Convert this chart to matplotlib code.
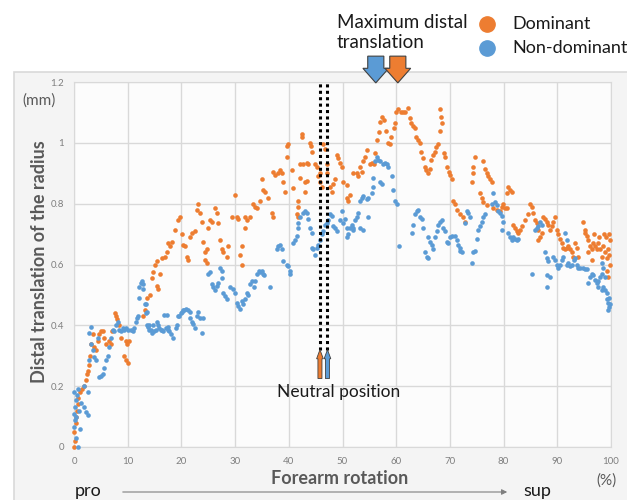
import matplotlib.pyplot as plt
from matplotlib.lines import Line2D
from matplotlib.patches import Rectangle, FancyArrow

plt.rcParams['font.family'] = ['Lato', 'DejaVu Sans']

# Dominant side: (forearm rotation %, distal translation mm)
dom_points = [
    (0.0, 0.00), (0.1, 0.02), (0.0, 0.05), (0.3, 0.08), (0.4, 0.10), (0.5, 0.12), (0.7, 0.14), (0.8, 0.16),
    (1.2, 0.18), (1.5, 0.19), (1.8, 0.20), (2.2, 0.22), (2.5, 0.24), (2.6, 0.25), (2.8, 0.27), (3.0, 0.30),
    (3.2, 0.34), (3.5, 0.37), (3.8, 0.33), (4.1, 0.32), (4.4, 0.35), (4.6, 0.37), (5.0, 0.38), (5.4, 0.38),
    (5.6, 0.36), (6.0, 0.34), (6.5, 0.35), (6.9, 0.34), (7.1, 0.38), (7.6, 0.44), (7.9, 0.43), (8.1, 0.42),
    (8.4, 0.40), (8.8, 0.36), (9.6, 0.35), (9.9, 0.34), (10.2, 0.35), (9.3, 0.30), (9.6, 0.285), (10.0, 0.275),
    (12.9, 0.43), (13.2, 0.45), (13.6, 0.49), (14.2, 0.50), (14.6, 0.555), (14.8, 0.575), (15.1, 0.60), (15.5, 0.61),
    (15.5, 0.53), (15.7, 0.52), (16.0, 0.57), (16.4, 0.62), (17.0, 0.625), (17.3, 0.64), (17.5, 0.67), (17.9, 0.66),
    (18.3, 0.675), (18.8, 0.715), (19.4, 0.745), (19.8, 0.755), (20.1, 0.70), (20.3, 0.665), (20.7, 0.66), (21.0, 0.625),
    (21.2, 0.615), (21.6, 0.69), (21.9, 0.705), (22.5, 0.71), (22.9, 0.78), (23.1, 0.80), (23.5, 0.77), (23.8, 0.74),
    (24.0, 0.675), (24.4, 0.64), (24.7, 0.65), (24.4, 0.615), (24.7, 0.605), (24.9, 0.72), (25.3, 0.745), (25.7, 0.74),
    (26.3, 0.785), (26.6, 0.77), (26.8, 0.735), (27.2, 0.68), (27.6, 0.65), (27.8, 0.64), (28.5, 0.625), (28.7, 0.66),
    (29.4, 0.755), (30.0, 0.83), (30.3, 0.755), (30.5, 0.75), (30.9, 0.63), (31.3, 0.60), (31.3, 0.66),
    (31.8, 0.755), (32.2, 0.745), (31.8, 0.72), (32.8, 0.755), (33.3, 0.80), (33.7, 0.79), (34.1, 0.785), (34.6, 0.81),
    (35.0, 0.88), (35.2, 0.845), (35.6, 0.84), (36.1, 0.82), (36.9, 0.77), (37.0, 0.755), (37.0, 0.905), (37.4, 0.895),
    (38.0, 0.90), (38.4, 0.91), (38.7, 0.90), (38.9, 0.87), (39.3, 0.84), (39.7, 0.955), (39.7, 0.99), (39.9, 0.995),
    (40.6, 0.91), (40.8, 0.85), (41.7, 0.81), (41.7, 0.79), (41.5, 0.765), (41.7, 0.755), (42.1, 0.885), (42.5, 1.03),
    (42.5, 1.02), (42.1, 0.93), (42.7, 0.93), (43.4, 0.935), (43.6, 0.93), (43.0, 0.87), (43.4, 0.875), (43.0, 0.84),
    (43.9, 1.00), (44.1, 0.99), (44.3, 0.97), (44.9, 0.93), (45.2, 0.92), (45.4, 0.89), (45.8, 0.87), (45.8, 0.90),
    (46.2, 0.855), (46.4, 0.995), (46.7, 0.98), (47.1, 0.93), (47.1, 0.90), (47.7, 0.855), (48.0, 0.84), (48.2, 0.865),
    (48.6, 0.88), (48.9, 0.96), (49.2, 0.95), (49.5, 0.935), (49.9, 0.92), (50.1, 0.87), (50.8, 0.86), (50.8, 0.82),
    (51.0, 0.81), (51.4, 0.83), (52.0, 0.90), (52.7, 0.90), (52.9, 0.89), (53.3, 0.92), (53.6, 0.905), (53.8, 0.94),
    (54.2, 0.955), (54.6, 0.975), (55.1, 0.93), (55.5, 0.935), (55.9, 0.93), (56.1, 0.965), (56.5, 1.01), (56.8, 1.035),
    (57.0, 1.07), (57.4, 1.085), (57.7, 1.075), (58.1, 1.04), (58.5, 1.00), (58.8, 0.995), (59.1, 1.02), (59.5, 1.05),
    (59.8, 1.065), (60.0, 1.10), (60.4, 1.11), (60.9, 1.10), (61.3, 1.10), (61.6, 1.10), (62.2, 1.115), (62.6, 1.08),
    (62.8, 1.065), (63.1, 1.055), (63.5, 1.05), (63.7, 1.02), (64.1, 1.01), (64.4, 1.00), (64.6, 0.97), (65.0, 0.95),
    (65.4, 0.92), (65.6, 0.91), (65.9, 0.90), (66.3, 0.915), (66.5, 0.945), (66.9, 0.96), (67.2, 0.97), (67.4, 0.985),
    (67.8, 0.995), (68.2, 1.11), (68.4, 1.085), (68.5, 1.065), (68.2, 1.04), (68.9, 0.965), (69.1, 0.955), (69.5, 0.92),
    (69.9, 0.905), (70.0, 0.895), (70.4, 0.88), (70.6, 0.81), (71.0, 0.80), (71.3, 0.78), (71.9, 0.765), (72.4, 0.755),
    (72.8, 0.74), (74.7, 0.955), (74.3, 0.92), (74.3, 0.90), (74.1, 0.87), (76.2, 0.94), (76.5, 0.915), (76.9, 0.90),
    (77.1, 0.89), (77.5, 0.88), (77.8, 0.87), (75.6, 0.835), (76.0, 0.82), (76.2, 0.805), (76.9, 0.795), (78.0, 0.785),
    (78.8, 0.78), (79.3, 0.775), (79.7, 0.79), (79.9, 0.80), (80.6, 0.835), (80.8, 0.855), (81.2, 0.845), (81.6, 0.84),
    (80.3, 0.785), (80.6, 0.785), (81.7, 0.73), (82.1, 0.72), (82.5, 0.71), (82.7, 0.705), (83.1, 0.715), (83.4, 0.725),
    (84.0, 0.745), (84.5, 0.765), (84.9, 0.80), (85.3, 0.79), (85.5, 0.77), (85.8, 0.745), (86.2, 0.735), (86.4, 0.715),
    (86.8, 0.69), (86.4, 0.68), (87.1, 0.705), (87.3, 0.755), (87.7, 0.75), (88.1, 0.74), (88.3, 0.73), (88.6, 0.715),
    (89.0, 0.725), (89.2, 0.74), (89.6, 0.755), (90.0, 0.715), (90.1, 0.70), (90.5, 0.685), (90.9, 0.67), (91.1, 0.655),
    (91.4, 0.65), (91.8, 0.655), (92.0, 0.66), (92.4, 0.65), (92.7, 0.64), (92.9, 0.625), (93.3, 0.67), (93.7, 0.655),
    (93.9, 0.625), (94.8, 0.74), (95.2, 0.715), (95.5, 0.695), (95.7, 0.68), (96.1, 0.66), (96.5, 0.65), (96.6, 0.67),
    (97.0, 0.66), (97.4, 0.65), (97.6, 0.67), (98.0, 0.65), (98.3, 0.625), (98.5, 0.66), (98.9, 0.64), (99.3, 0.62),
    (99.4, 0.65), (99.3, 0.58), (99.4, 0.56), (95.2, 0.705), (95.7, 0.64), (96.5, 0.615), (99.6, 0.70), (99.8, 0.68),
    (99.7, 0.63), (99.1, 0.69), (98.7, 0.70), (97.8, 0.69), (96.9, 0.70), (99.9, 0.60),
]

# Non-dominant side
nondom_points = [
    (0.7, 0.00), (0.4, 0.03), (0.0, 0.065), (0.0, 0.11), (0.1, 0.13), (0.4, 0.155), (0.0, 0.18), (0.8, 0.19),
    (0.4, 0.10), (0.9, 0.12), (1.3, 0.145), (1.9, 0.13), (2.2, 0.115), (2.6, 0.105), (2.6, 0.18), (1.9, 0.20),
    (0.2, 0.09), (0.6, 0.17), (1.1, 0.06),
    (2.8, 0.285), (3.2, 0.34), (2.8, 0.375), (3.2, 0.395), (3.6, 0.32), (3.7, 0.295), (4.1, 0.285), (4.5, 0.36),
    (4.7, 0.23), (5.0, 0.235), (5.4, 0.24), (5.6, 0.26), (6.0, 0.285), (6.3, 0.30), (6.5, 0.33), (6.9, 0.36),
    (7.3, 0.385), (7.4, 0.38), (7.8, 0.40), (8.2, 0.41), (8.4, 0.385), (8.8, 0.38), (9.1, 0.39), (9.3, 0.385),
    (9.6, 0.39), (10.1, 0.385), (10.6, 0.385), (11.0, 0.38), (11.2, 0.39), (11.5, 0.41), (11.9, 0.43), (12.1, 0.525),
    (12.5, 0.54), (12.9, 0.535), (12.1, 0.49), (13.4, 0.47), (13.4, 0.44), (13.8, 0.395), (14.0, 0.40), (14.3, 0.385),
    (14.7, 0.40), (14.9, 0.38), (15.3, 0.385), (15.8, 0.39), (16.2, 0.385), (16.6, 0.38), (16.8, 0.435), (17.1, 0.39),
    (17.5, 0.385), (17.7, 0.38), (18.1, 0.37), (18.4, 0.36), (19.0, 0.39), (19.6, 0.43), (19.9, 0.44), (20.3, 0.45),
    (11.7, 0.425), (12.7, 0.545), (12.9, 0.52), (13.2, 0.47), (13.6, 0.445), (13.6, 0.40), (14.0, 0.385), (14.5, 0.375),
    (15.5, 0.41), (15.7, 0.40), (16.4, 0.385), (17.3, 0.435), (17.5, 0.395), (19.2, 0.40), (19.4, 0.43),
    (20.1, 0.445), (20.5, 0.45), (20.9, 0.455), (21.2, 0.45), (21.6, 0.445), (21.6, 0.425), (22.0, 0.41), (22.2, 0.405),
    (22.5, 0.39), (22.9, 0.43), (23.1, 0.445), (23.5, 0.425), (23.8, 0.375), (24.0, 0.425),
    (24.9, 0.57), (25.3, 0.575), (25.7, 0.535), (25.9, 0.525), (26.3, 0.515), (26.6, 0.53), (26.8, 0.54), (27.2, 0.59),
    (27.6, 0.58), (27.6, 0.555), (27.8, 0.505), (28.1, 0.495), (28.5, 0.485), (29.1, 0.525), (29.6, 0.52), (30.0, 0.505),
    (30.3, 0.475), (30.5, 0.465), (30.9, 0.455), (31.5, 0.47), (31.9, 0.485), (32.2, 0.505), (31.3, 0.48), (32.4, 0.50),
    (32.8, 0.535), (33.1, 0.545), (33.5, 0.525), (33.7, 0.545), (34.1, 0.57), (34.4, 0.58), (34.6, 0.575), (35.0, 0.58),
    (35.2, 0.57), (35.4, 0.565), (36.5, 0.525), (37.8, 0.65), (38.0, 0.66), (38.4, 0.665), (38.7, 0.65), (38.9, 0.61),
    (39.7, 0.60), (39.9, 0.595), (40.2, 0.58), (40.2, 0.57), (40.8, 0.67), (41.2, 0.68), (41.5, 0.695), (41.7, 0.72),
    (41.7, 0.735), (42.1, 0.755), (42.7, 0.77), (43.0, 0.775), (43.4, 0.77), (43.6, 0.75), (44.0, 0.72), (44.3, 0.705),
    (44.3, 0.655), (44.5, 0.65), (44.9, 0.63), (45.2, 0.655), (45.4, 0.665), (45.8, 0.68), (46.2, 0.70), (46.4, 0.71),
    (46.7, 0.73), (47.1, 0.735), (47.3, 0.745), (47.7, 0.765), (48.0, 0.76), (48.2, 0.725), (48.6, 0.72), (49.0, 0.71),
    (49.5, 0.745), (49.9, 0.775), (50.1, 0.735), (50.8, 0.72), (51.0, 0.70), (51.4, 0.72), (52.0, 0.72), (52.3, 0.745),
    (52.7, 0.755), (52.9, 0.77), (53.3, 0.72), (53.6, 0.82), (53.8, 0.825), (54.6, 0.815), (54.8, 0.755),
    (50.5, 0.75), (50.8, 0.69), (51.8, 0.73), (51.9, 0.715), (53.3, 0.81), (53.8, 0.715), (54.8, 0.82),
    (55.5, 0.835), (55.7, 0.855), (55.7, 0.885), (56.1, 0.94), (56.4, 0.955), (56.6, 0.945), (57.0, 0.94), (57.0, 0.87),
    (57.4, 0.865), (57.6, 0.93), (57.9, 0.935), (58.3, 0.93), (58.5, 0.92), (59.2, 0.89), (59.4, 0.845), (59.8, 0.81),
    (60.1, 0.80), (60.5, 0.66), (62.9, 0.705), (63.1, 0.73), (63.5, 0.765), (63.9, 0.775), (64.0, 0.78), (64.4, 0.755),
    (64.8, 0.75), (65.0, 0.72), (65.4, 0.64), (65.7, 0.625), (65.9, 0.62), (65.9, 0.69), (66.3, 0.675), (66.7, 0.665),
    (66.8, 0.65), (67.2, 0.69), (67.6, 0.71), (67.8, 0.73), (68.2, 0.74), (68.5, 0.745), (68.7, 0.72), (69.1, 0.71),
    (69.5, 0.675), (69.7, 0.67), (70.0, 0.69), (70.4, 0.695), (70.9, 0.695), (71.3, 0.68), (71.5, 0.665), (71.9, 0.655),
    (72.3, 0.64), (73.4, 0.77), (73.2, 0.775), (73.7, 0.755), (72.8, 0.735), (75.6, 0.725), (76.0, 0.74), (76.2, 0.755),
    (76.5, 0.765), (75.2, 0.715), (75.0, 0.685), (74.7, 0.645), (74.3, 0.64), (74.1, 0.605), (71.9, 0.645),
    (78.0, 0.835), (77.8, 0.80), (78.4, 0.805), (78.8, 0.795), (78.9, 0.775), (79.3, 0.77), (79.7, 0.76), (79.9, 0.74),
    (79.7, 0.715), (80.8, 0.705), (81.2, 0.69), (81.6, 0.68), (81.7, 0.69), (82.1, 0.685), (82.5, 0.68), (82.7, 0.685),
    (85.3, 0.57), (85.8, 0.715), (86.2, 0.72), (86.4, 0.725), (86.8, 0.74), (87.1, 0.73), (87.7, 0.64), (88.1, 0.62),
    (88.3, 0.61), (88.1, 0.565), (88.6, 0.56), (88.1, 0.525), (89.2, 0.625), (89.6, 0.615), (90.0, 0.60), (90.1, 0.59),
    (90.5, 0.60), (90.9, 0.615), (91.1, 0.625), (91.4, 0.705), (91.8, 0.68), (91.8, 0.60), (92.0, 0.605), (92.4, 0.595),
    (92.7, 0.60), (93.1, 0.615), (93.3, 0.62), (93.7, 0.60), (93.9, 0.59), (94.2, 0.59), (94.8, 0.59), (95.2, 0.585),
    (95.5, 0.585), (95.7, 0.54), (96.1, 0.56), (96.5, 0.57), (96.6, 0.565), (97.0, 0.55), (97.4, 0.54), (97.6, 0.545),
    (98.0, 0.56), (98.3, 0.57), (98.3, 0.605), (98.5, 0.59), (98.5, 0.525), (98.9, 0.515), (99.3, 0.505), (99.3, 0.485),
    (99.4, 0.475), (99.4, 0.45), (98.9, 0.56), (98.3, 0.515), (97.6, 0.525), (99.6, 0.46), (99.8, 0.47), (99.7, 0.49),
]

neutral_dom = 45.8
neutral_nondom = 47.2
max_dom = 60.3
max_nondom = 56.2

x_ticks = list(range(0, 101, 10))
y_ticks = [0, 0.2, 0.4, 0.6, 0.8, 1.0, 1.2]
y_tick_labels = ['0', '0.2', '0.4', '0.6', '0.8', '1', '1.2']

orange = '#ED7D31'
blue = '#5B9BD5'
gray_txt = '#595959'

fig = plt.figure(figsize=(6.27, 5.0), dpi=100)
fig.add_artist(Rectangle((14 / 627, -0.01), 1.0, 0.866, transform=fig.transFigure,
                         facecolor='#f4f4f4', edgecolor='#d9d9d9', lw=1.2, zorder=-5))

ax = fig.add_axes([74 / 627, 53 / 500, 537 / 627, 365 / 500])
ax.set_facecolor('#fcfcfc')

dx, dy = zip(*dom_points)
nx, ny = zip(*nondom_points)
ax.scatter(dx, dy, s=11, color=orange, linewidths=0, zorder=3, clip_on=False)
ax.scatter(nx, ny, s=11, color=blue, linewidths=0, zorder=3, clip_on=False)

ax.set_xlim(0, 100)
ax.set_ylim(0, 1.2)
ax.set_xticks(x_ticks)
ax.set_yticks(y_ticks)
ax.set_yticklabels(y_tick_labels)
ax.tick_params(length=0, labelsize=7, colors='#7f7f7f', pad=7)
ax.grid(True, color='#d9d9d9', linewidth=1)
ax.set_axisbelow(True)
for sp in ax.spines.values():
    sp.set_color('#d9d9d9')

# neutral position lines and arrows
for xn, c in [(neutral_dom, orange), (neutral_nondom, blue)]:
    ax.plot([xn, xn], [0.32, 1.2], color='black', lw=2.2, linestyle=(0, (1, 1.1)),
            dash_capstyle='butt', zorder=4)
    ax.add_patch(FancyArrow(xn, 0.225, 0, 0.095, width=0.75, head_width=1.25, head_length=0.03,
                            length_includes_head=True, fc=c, ec='#404040', lw=0.6, zorder=5))
ax.text(49.3, 0.18, 'Neutral position', fontsize=12.5, ha='center', va='center', color='#1a1a1a')

# maximum distal translation arrows above the plot
for xm, c in [(max_nondom, blue), (max_dom, orange)]:
    ax.add_patch(FancyArrow(xm, 1.285, 0, -0.088, width=3.0, head_width=4.8, head_length=0.048,
                            length_includes_head=True, fc=c, ec='#404040', lw=0.8,
                            clip_on=False, zorder=6))
fig.text(337 / 627, 1 - 14 / 500, 'Maximum distal\ntranslation', fontsize=13.5, va='top', ha='left',
         linespacing=1.25, color='#1a1a1a')

# legend
for yy, c, lab in [(24, orange, 'Dominant'), (48, blue, 'Non-dominant')]:
    fig.add_artist(Line2D([487 / 627], [1 - yy / 500], marker='o', markersize=11, color=c,
                          linestyle='none', transform=fig.transFigure))
    fig.text(512 / 627, 1 - yy / 500, lab, fontsize=13, va='center', ha='left', color='#1a1a1a')

# axis labels
fig.text(40 / 627, 1 - 262 / 500, 'Distal translation of the radius', rotation=90, fontsize=13,
         fontweight='bold', color=gray_txt, ha='center', va='center')
fig.text(22 / 627, 1 - 101 / 500, '(mm)', fontsize=11, color=gray_txt, va='center', ha='left')
fig.text(340 / 627, 1 - 478 / 500, 'Forearm rotation', fontsize=13, fontweight='bold',
         color=gray_txt, ha='center', va='center')
fig.text(75 / 627, 1 - 491 / 500, 'pro', fontsize=13, va='center', ha='left', color='#1a1a1a')
fig.text(523 / 627, 1 - 491 / 500, 'sup', fontsize=13, va='center', ha='left', color='#1a1a1a')
fig.text(596 / 627, 1 - 481 / 500, '(%)', fontsize=11, va='center', ha='left', color=gray_txt)
fig.add_artist(plt.Annotation('', xy=(510 / 627, 1 - 492 / 500), xytext=(120 / 627, 1 - 492 / 500),
                              xycoords='figure fraction', textcoords='figure fraction',
                              arrowprops=dict(arrowstyle='-|>', color='#7f7f7f', lw=0.8,
                                              mutation_scale=8)))

fig.savefig('out.png', dpi=100)
